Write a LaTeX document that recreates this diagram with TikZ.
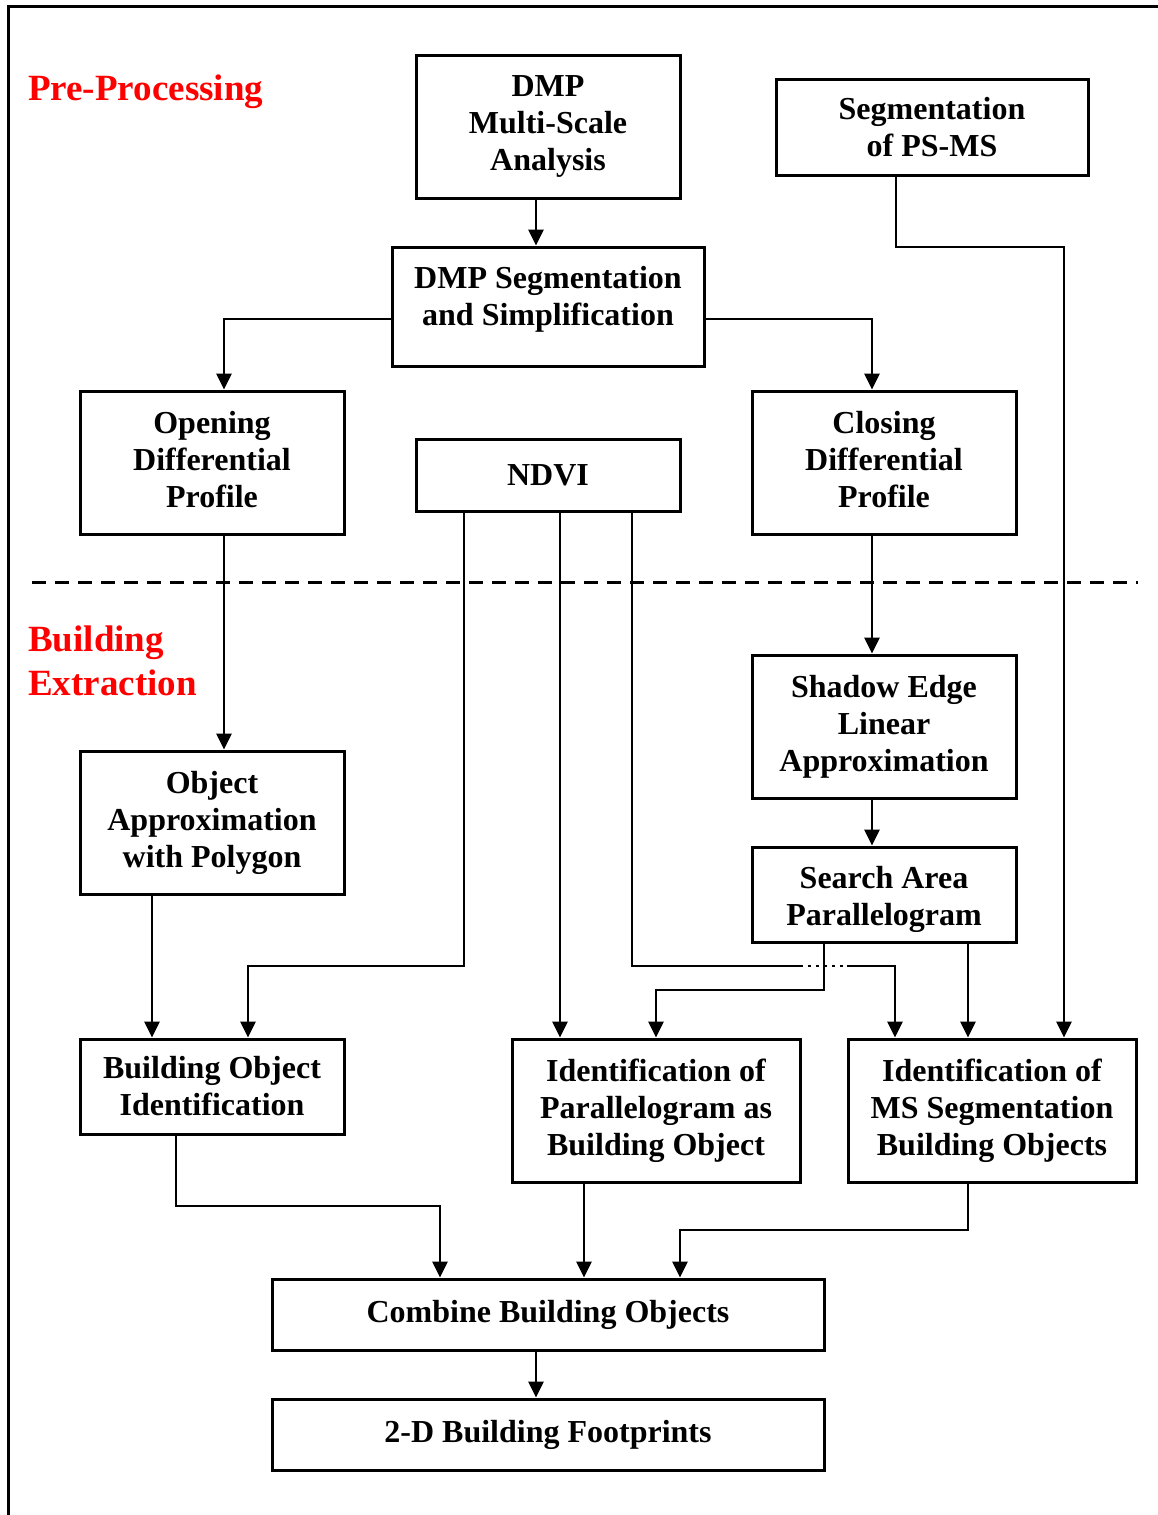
\documentclass[tikz,border=0pt]{standalone}
\usepackage{fontspec}
\setmainfont{Liberation Serif}
\usetikzlibrary{arrows.meta}
\begin{document}
\begin{tikzpicture}[x=1pt,y=-1pt,
  box/.style={draw, line width=3pt, align=center, inner sep=0pt,
    font=\fontsize{32}{37}\selectfont\bfseries},
  conn/.style={line width=2.8pt},
  arr/.style={line width=2.8pt, -{Triangle[width=15pt,length=16pt]}},
  redlbl/.style={text=red, anchor=west, align=left, inner sep=0pt,
    font=\fontsize{37}{44}\selectfont\bfseries}]
\useasboundingbox (0,0) rectangle (1158,1515);
% frame
\draw[line width=3pt] (8,1515) -- (8,6) -- (1158,6);
% dashed separator
\draw[line width=3pt, dash pattern=on 14pt off 9pt] (32,582) -- (1138,582);
% labels
\node[redlbl] (pre) at (28,92) {Pre-Processing};
\node[redlbl] (bex) at (28,661) {Building\\Extraction};
% boxes
\node[box, minimum width=264, minimum height=143] (dmp) at (548,126.5) {DMP\\Multi-Scale\\Analysis};
\node[box, minimum width=312, minimum height=96] (psms) at (932,127) {Segmentation\\of PS-MS};
\node[box, minimum width=312, minimum height=119] (seg) at (548,306.5) {DMP Segmentation\\and Simplification\\[-16pt]\mbox{}};
\node[box, minimum width=264, minimum height=143] (open) at (212,462.5) {Opening\\Differential\\Profile\\[-31pt]\mbox{}};
\node[box, minimum width=264, minimum height=72] (ndvi) at (548,475) {NDVI};
\node[box, minimum width=264, minimum height=143] (close) at (884,462.5) {Closing\\Differential\\Profile\\[-31pt]\mbox{}};
\node[box, minimum width=264, minimum height=143] (shadow) at (884,726.5) {Shadow Edge\\Linear\\Approximation};
\node[box, minimum width=264, minimum height=95] (search) at (884,894.5) {\mbox{}\\[-5pt]Search Area\\Parallelogram};
\node[box, minimum width=264, minimum height=143] (poly) at (212,822.5) {Object\\Approximation\\with Polygon};
\node[box, minimum width=264, minimum height=95] (boi) at (212,1086.5) {Building Object\\Identification};
\node[box, minimum width=288, minimum height=143] (ipar) at (656,1110.5) {Identification of\\Parallelogram as\\Building Object};
\node[box, minimum width=288, minimum height=143] (ims) at (992,1110.5) {Identification of\\MS Segmentation\\Building Objects};
\node[box, minimum width=552, minimum height=71] (comb) at (548,1314.5) {Combine Building Objects};
\node[box, minimum width=552, minimum height=71] (foot) at (548,1434.5) {2-D Building Footprints};
% connectors
\draw[arr] (dmp.south -| 536,0) -- (seg.north -| 536,0);
\draw[arr] (seg.west |- 0,319) -- (224,319) -- (open.north -| 224,0);
\draw[arr] (seg.east |- 0,319) -- (872,319) -- (close.north -| 872,0);
\draw[arr] (psms.south -| 896,0) -- (896,247) -- (1064,247) -- (ims.north -| 1064,0);
\draw[arr] (open.south -| 224,0) -- (poly.north -| 224,0);
\draw[arr] (close.south -| 872,0) -- (shadow.north -| 872,0);
\draw[arr] (shadow.south -| 872,0) -- (search.north -| 872,0);
\draw[arr] (search.south -| 968,0) -- (ims.north -| 968,0);
\draw[arr] (search.south -| 824,0) -- (824,990) -- (656,990) -- (ipar.north -| 656,0);
\draw[arr] (ndvi.south -| 464,0) -- (464,966) -- (248,966) -- (boi.north -| 248,0);
\draw[arr] (ndvi.south -| 560,0) -- (ipar.north -| 560,0);
\coordinate (g1) at (800,966);
\coordinate (g2) at (847,966);
\draw[conn] (ndvi.south -| 632,0) -- (632,966) -- (g1);
\draw[line width=2.8pt, dash pattern=on 3pt off 5pt] (g1) -- (g2);
\draw[arr] (g2) -- (895,966) -- (ims.north -| 895,0);
\draw[arr] (poly.south -| 152,0) -- (boi.north -| 152,0);
\draw[arr] (boi.south -| 176,0) -- (176,1206) -- (440,1206) -- (comb.north -| 440,0);
\draw[arr] (ipar.south -| 584,0) -- (comb.north -| 584,0);
\draw[arr] (ims.south -| 968,0) -- (968,1230) -- (680,1230) -- (comb.north -| 680,0);
\draw[arr] (comb.south -| 536,0) -- (foot.north -| 536,0);
\end{tikzpicture}
\end{document}
